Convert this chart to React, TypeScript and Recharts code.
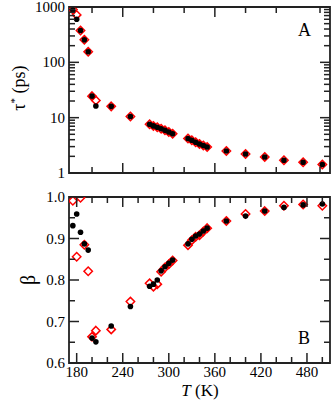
import React from 'react';
import { ScatterChart, Scatter, XAxis, YAxis, ReferenceArea } from 'recharts';

// temperatures (K)
const temps = [175, 180, 185, 190, 195, 200, 205, 225, 250, 275, 280, 285, 290, 295, 300, 305,
  325, 330, 335, 340, 345, 350, 375, 400, 425, 450, 475, 500];

// panel A: tau* (ps)
const tauBlack = [880, 600, 375, 255, 155, 24.5, 16.3, 16, 10.5, 7.6, 7.1, 6.7, 6.3, 5.9, 5.5, 5.1,
  4.2, 3.9, 3.6, 3.35, 3.15, 2.95, 2.5, 2.2, 1.95, 1.7, 1.56, 1.42];
const tauRed = [900, 720, 375, 255, 155, 24.5, 20.5, 16, 10.5, 7.6, 7.1, 6.7, 6.3, 5.9, 5.5, 5.1,
  4.2, 3.9, 3.6, 3.35, 3.15, 2.95, 2.5, 2.2, 1.95, 1.7, 1.56, 1.42];

// panel B: beta
const betaBlack = [0.931, 0.959, 0.915, 0.887, 0.872, 0.66, 0.651, 0.689, 0.736, 0.785, 0.79, 0.8,
  0.822, 0.832, 0.84, 0.848, 0.887, 0.898, 0.906, 0.911, 0.918, 0.925, 0.942, 0.954, 0.966, 0.975,
  0.981, 0.983];
const betaRed = [0.991, 0.856, 0.998, 0.885, 0.821, 0.663, 0.678, 0.681, 0.748, 0.792, 0.784, 0.79,
  0.82, 0.83, 0.838, 0.847, 0.884, 0.896, 0.904, 0.908, 0.917, 0.925, 0.942, 0.959, 0.966, 0.979,
  0.982, 0.979];

// ticks
const xTicks = [180, 200, 220, 240, 260, 280, 300, 320, 340, 360, 380, 400, 420, 440, 460, 480, 500];
const xMajor = [180, 240, 300, 360, 420, 480];
const tauTicks = [1, 2, 3, 4, 5, 6, 7, 8, 9, 10, 20, 30, 40, 50, 60, 70, 80, 90,
  100, 200, 300, 400, 500, 600, 700, 800, 900, 1000];
const tauMajor = [1, 10, 100, 1000];
const betaTicks = [0.6, 0.65, 0.7, 0.75, 0.8, 0.85, 0.9, 0.95, 1.0];
const betaMajor = [0.6, 0.7, 0.8, 0.9, 1.0];

const W = 332;
const LEFT = 69;
const RIGHT = 330;
const ink = '#222';
const font = '"Liberation Serif", "DejaVu Serif", serif';

const toPoints = (vals: number[]) => temps.map((t, i) => ({ T: t, v: vals[i] }));

const Dot = (props: any) => {
  const { cx, cy } = props;
  if (cx == null || cy == null) return null;
  return <circle cx={cx} cy={cy} r={2.8} fill="#000" />;
};

const Diamond = (props: any) => {
  const { cx, cy } = props;
  if (cx == null || cy == null) return null;
  const s = 4.2;
  return (
    <path
      d={`M${cx},${cy - s}L${cx + s},${cy}L${cx},${cy + s}L${cx - s},${cy}Z`}
      fill="none"
      stroke="#ff0000"
      strokeWidth={1.5}
    />
  );
};

const makeXTick = (top: number, bottom: number, labels: boolean) => (props: any) => {
  const { x, payload } = props;
  const major = xMajor.includes(payload.value);
  const len = major ? 10 : 6;
  return (
    <g>
      <line x1={x} x2={x} y1={bottom} y2={bottom - len} stroke={ink} strokeWidth={1.5} />
      <line x1={x} x2={x} y1={top} y2={top + len} stroke={ink} strokeWidth={1.5} />
      {labels && major && (
        <text x={x} y={bottom + 14} textAnchor="middle" fontFamily={font} fontSize={15} fill="#000">
          {payload.value}
        </text>
      )}
    </g>
  );
};

const makeYTick = (major: number[], fmt: (v: number) => string) => (props: any) => {
  const { y, payload } = props;
  const isMajor = major.some((m) => Math.abs(m - payload.value) < 1e-9);
  const len = isMajor ? 10 : 6;
  return (
    <g>
      <line x1={LEFT} x2={LEFT + len} y1={y} y2={y} stroke={ink} strokeWidth={1.5} />
      <line x1={RIGHT} x2={RIGHT - len} y1={y} y2={y} stroke={ink} strokeWidth={1.5} />
      {isMajor && (
        <text x={LEFT - 4} y={y} dy="0.34em" textAnchor="end" fontFamily={font} fontSize={15} fill="#000">
          {fmt(payload.value)}
        </text>
      )}
    </g>
  );
};

export default function App() {
  return (
    <div style={{ position: 'absolute', left: 0, top: 0, width: W, height: 402, background: '#fff' }}>
      <div style={{ position: 'absolute', left: 0, top: 0 }}>
        <ScatterChart width={W} height={185} margin={{ top: 7, right: W - RIGHT, bottom: 0, left: 0 }}>
          <XAxis
            dataKey="T"
            type="number"
            domain={[170, 510]}
            ticks={xTicks}
            height={12}
            axisLine={false}
            tickLine={false}
            tick={makeXTick(7, 173, false)}
            allowDataOverflow
          />
          <YAxis
            dataKey="v"
            type="number"
            scale="log"
            domain={[1, 1000]}
            ticks={tauTicks}
            width={LEFT}
            axisLine={false}
            tickLine={false}
            tick={makeYTick(tauMajor, (v) => String(v))}
            interval={0}
            allowDataOverflow
          />
          <ReferenceArea x1={170} x2={510} y1={1} y2={1000} fill="none" stroke={ink} strokeWidth={1.8} />
          <Scatter data={toPoints(tauRed)} shape={Diamond} isAnimationActive={false} />
          <Scatter data={toPoints(tauBlack)} shape={Dot} isAnimationActive={false} />
        </ScatterChart>
      </div>
      <div style={{ position: 'absolute', left: 0, top: 185 }}>
        <ScatterChart width={W} height={217} margin={{ top: 12, right: W - RIGHT, bottom: 0, left: 0 }}>
          <XAxis
            dataKey="T"
            type="number"
            domain={[170, 510]}
            ticks={xTicks}
            height={39}
            axisLine={false}
            tickLine={false}
            tick={makeXTick(12, 178, true)}
            interval={0}
            allowDataOverflow
          />
          <YAxis
            dataKey="v"
            type="number"
            domain={[0.6, 1.0]}
            ticks={betaTicks}
            width={LEFT}
            axisLine={false}
            tickLine={false}
            tick={makeYTick(betaMajor, (v) => v.toFixed(1))}
            interval={0}
            allowDataOverflow
          />
          <ReferenceArea x1={170} x2={510} y1={0.6} y2={1.0} fill="none" stroke={ink} strokeWidth={1.8} />
          <Scatter data={toPoints(betaRed)} shape={Diamond} isAnimationActive={false} />
          <Scatter data={toPoints(betaBlack)} shape={Dot} isAnimationActive={false} />
        </ScatterChart>
      </div>
      <svg width={W} height={402} style={{ position: 'absolute', left: 0, top: 0, pointerEvents: 'none' }}>
        <text transform="rotate(-90 25 88)" x={25} y={88} textAnchor="middle" fontFamily={font} fontSize={18} fill="#000">
          τ<tspan dy={-7} fontSize={11}>*</tspan>
          <tspan dy={7}> (ps)</tspan>
        </text>
        <text x={298} y={36} fontFamily={font} fontSize={18} fill="#000">A</text>
        <text transform="rotate(-90 35 280)" x={35} y={280} textAnchor="middle" fontFamily={font} fontSize={20} fill="#000">
          β
        </text>
        <text x={298} y={344} fontFamily={font} fontSize={18} fill="#000">B</text>
        <text x={200} y={396} textAnchor="middle" fontFamily={font} fontSize={17} fill="#000">
          <tspan fontStyle="italic">T</tspan> (K)
        </text>
      </svg>
    </div>
  );
}
